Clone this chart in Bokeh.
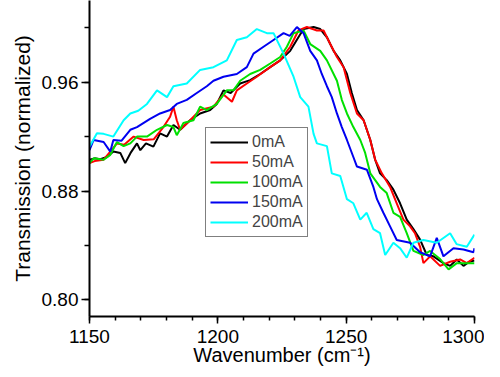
from bokeh.plotting import figure
from bokeh.models import Range1d, FixedTicker, Legend, LegendItem, CustomJSTickFormatter
from bokeh.embed import file_html
from bokeh.resources import INLINE

labels = ["0mA", "50mA", "100mA", "150mA", "200mA"]
colors = ["#000000", "#FF0000", "#00E000", "#0000F0", "#00FFFF"]

x_0mA = [1150, 1152, 1154.2, 1156.8, 1159.3, 1162, 1163.9, 1166, 1168.5, 1169.8, 1172, 1174.9, 1177.5, 1180.2, 1182.7, 1185.3, 1189.2, 1193.1, 1197, 1199.6, 1202.2, 1205, 1208.7, 1212.6, 1216.5, 1220.4, 1224.3, 1228.2, 1231.4, 1233.4, 1237.3, 1239.9, 1242.5, 1245.1, 1247.7, 1250.3, 1252.2, 1254.2, 1256.8, 1259.4, 1261.3, 1263.2, 1265.8, 1268.4, 1271, 1273.6, 1276.2, 1278.8, 1281.4, 1284, 1287.9, 1290.5, 1293.1, 1295.7, 1298, 1300]
y_0mA = [0.903, 0.904, 0.9034, 0.905, 0.909, 0.908, 0.9005, 0.908, 0.915, 0.910, 0.915, 0.9126, 0.9224, 0.920, 0.9285, 0.925, 0.932, 0.937, 0.9395, 0.944, 0.954, 0.952, 0.959, 0.9615, 0.966, 0.971, 0.976, 0.983, 0.993, 0.999, 1.0005, 0.999, 0.993, 0.983, 0.976, 0.966, 0.952, 0.9395, 0.932, 0.9175, 0.903, 0.893, 0.888, 0.881, 0.871, 0.859, 0.852, 0.8443, 0.833, 0.832, 0.827, 0.825, 0.8297, 0.825, 0.828, 0.829]

x_50mA = [1150, 1152, 1155.5, 1158.1, 1160.7, 1163.5, 1167.2, 1171.1, 1175, 1178.8, 1181.4, 1182.7, 1184, 1185.3, 1189.2, 1193.1, 1198.3, 1202.2, 1205.5, 1207.4, 1211.3, 1215.2, 1220.4, 1224.3, 1228.2, 1231.4, 1234.7, 1238.6, 1241.2, 1243.8, 1246.4, 1249, 1251.6, 1254.2, 1256.8, 1259.4, 1261.3, 1263.9, 1267.1, 1269.7, 1272.3, 1274.9, 1276.8, 1278.8, 1280.1, 1282.7, 1286.6, 1290.5, 1294.4, 1297, 1300]
y_50mA = [0.9005, 0.902, 0.903, 0.909, 0.915, 0.914, 0.920, 0.9175, 0.918, 0.927, 0.9346, 0.942, 0.932, 0.925, 0.932, 0.9395, 0.942, 0.951, 0.9456, 0.954, 0.959, 0.964, 0.971, 0.976, 0.986, 0.998, 1.0005, 0.998, 0.998, 0.988, 0.9785, 0.971, 0.952, 0.937, 0.932, 0.9175, 0.903, 0.893, 0.883, 0.871, 0.859, 0.854, 0.849, 0.839, 0.827, 0.832, 0.825, 0.828, 0.8297, 0.827, 0.831]

x_100mA = [1150, 1151.6, 1155.5, 1158.1, 1160.7, 1163.3, 1165.9, 1168.5, 1172.4, 1176.3, 1180.2, 1182.7, 1184, 1186.6, 1190.5, 1193.1, 1195.7, 1199.6, 1203.5, 1206.1, 1208.7, 1212.6, 1216.5, 1220.4, 1224.3, 1226.9, 1229.5, 1233.4, 1236, 1239.9, 1242.5, 1246.4, 1248.3, 1250.3, 1252.8, 1255.5, 1257.4, 1259.4, 1263.2, 1265.8, 1268.4, 1271, 1273.6, 1276.2, 1280.1, 1282.7, 1286.6, 1289.9, 1293.1, 1296.5, 1300]
y_100mA = [0.9005, 0.904, 0.903, 0.9066, 0.916, 0.913, 0.915, 0.920, 0.920, 0.925, 0.9285, 0.927, 0.921, 0.930, 0.932, 0.942, 0.9395, 0.944, 0.954, 0.954, 0.961, 0.966, 0.969, 0.9737, 0.9785, 0.986, 0.996, 0.998, 0.988, 0.983, 0.976, 0.961, 0.947, 0.937, 0.927, 0.9175, 0.908, 0.893, 0.883, 0.8785, 0.864, 0.861, 0.849, 0.836, 0.833, 0.836, 0.830, 0.8224, 0.827, 0.827, 0.827]

x_150mA = [1150, 1151.6, 1155.5, 1158.1, 1159.3, 1162.5, 1165.9, 1168.5, 1173.6, 1177.5, 1181.4, 1184, 1187.9, 1191.8, 1195.7, 1198.3, 1202.2, 1207.4, 1211.3, 1213.9, 1217.8, 1221.7, 1225.6, 1228, 1230.8, 1233.4, 1236, 1238.6, 1240.5, 1242.5, 1244.4, 1246.4, 1248.3, 1250.3, 1252.8, 1254.2, 1258.1, 1260.6, 1262, 1264.5, 1267.1, 1269.7, 1274.9, 1278.8, 1282.7, 1285.3, 1287.9, 1291.8, 1295.7, 1299.6, 1300]
y_150mA = [0.910, 0.9175, 0.916, 0.909, 0.9175, 0.917, 0.925, 0.927, 0.933, 0.937, 0.9395, 0.944, 0.947, 0.952, 0.957, 0.961, 0.964, 0.966, 0.971, 0.981, 0.986, 0.991, 0.996, 0.994, 1.0005, 0.996, 0.983, 0.976, 0.966, 0.957, 0.949, 0.937, 0.927, 0.9175, 0.905, 0.898, 0.8956, 0.883, 0.874, 0.864, 0.854, 0.844, 0.842, 0.835, 0.832, 0.8456, 0.832, 0.838, 0.837, 0.835, 0.838]

x_200mA = [1150, 1152.9, 1155.5, 1159.3, 1163.3, 1165.9, 1169, 1172.4, 1176.3, 1180.2, 1182.7, 1187.9, 1193.1, 1198.3, 1203.5, 1207.4, 1211.3, 1215.2, 1219.1, 1221.7, 1225.6, 1229.5, 1232.1, 1235.3, 1237.3, 1238.6, 1242.5, 1244.4, 1247.7, 1250.3, 1252.8, 1255.5, 1258, 1260.6, 1263.2, 1265.2, 1268.4, 1271, 1273.6, 1276.2, 1280.1, 1285.3, 1290.5, 1293, 1297, 1300]
y_200mA = [0.9126, 0.9224, 0.922, 0.920, 0.932, 0.937, 0.939, 0.944, 0.954, 0.949, 0.957, 0.959, 0.969, 0.971, 0.976, 0.991, 0.993, 0.999, 0.996, 0.996, 0.981, 0.964, 0.949, 0.942, 0.922, 0.915, 0.913, 0.893, 0.891, 0.874, 0.871, 0.859, 0.864, 0.852, 0.849, 0.833, 0.842, 0.838, 0.831, 0.842, 0.844, 0.842, 0.849, 0.841, 0.839, 0.848]

x_ticks = [1150, 1200, 1250, 1300]
x_minor = [1150, 1160, 1170, 1180, 1190, 1200, 1210, 1220, 1230, 1240, 1250, 1260, 1270, 1280, 1290, 1300]
y_ticks = [0.80, 0.88, 0.96]
y_minor = [0.80, 0.84, 0.88, 0.92, 0.96, 1.00]

series_x = [x_0mA, x_50mA, x_100mA, x_150mA, x_200mA]
series_y = [y_0mA, y_50mA, y_100mA, y_150mA, y_200mA]

FONT = "Liberation Sans"

p = figure(width=484, height=368, output_backend="svg", toolbar_location=None,
           x_range=Range1d(1150, 1300), y_range=Range1d(0.7878, 1.020),
           min_border_left=89, min_border_right=10, min_border_top=0, min_border_bottom=51)
p.outline_line_color = None
p.xgrid.visible = False
p.ygrid.visible = False
p.background_fill_color = "white"
p.border_fill_color = "white"

items = []
for lbl, col, xs, ys in zip(labels, colors, series_x, series_y):
    r = p.line(xs, ys, line_color=col, line_width=2)
    items.append(LegendItem(label=lbl, renderers=[r]))

legend = Legend(items=items, location=(116, 79), orientation="vertical")
legend.border_line_color = "black"
legend.border_line_width = 1
legend.background_fill_alpha = 1
legend.label_text_font = FONT
legend.label_text_font_size = "16px"
legend.glyph_width = 38
legend.glyph_height = 20
legend.label_height = 20
legend.label_standoff = 4
legend.spacing = 0
legend.padding = 4
legend.margin = 0
p.add_layout(legend, "center")

for ax in (p.xaxis[0], p.yaxis[0]):
    ax.axis_line_width = 2
    ax.axis_line_color = "black"
    ax.major_tick_line_width = 1.5
    ax.minor_tick_line_width = 1.5
    ax.major_tick_in = 0
    ax.minor_tick_in = 0
    ax.major_label_text_font = FONT
    ax.major_label_text_font_size = "19px"
    ax.major_label_text_color = "black"
    ax.axis_label_text_font = FONT
    ax.axis_label_text_font_style = "normal"
    ax.axis_label_text_color = "black"

p.xaxis[0].major_tick_out = 7
p.xaxis[0].minor_tick_out = 4
p.yaxis[0].major_tick_out = 8
p.yaxis[0].minor_tick_out = 5
p.xaxis[0].axis_label_text_font_size = "20px"
p.yaxis[0].axis_label_text_font_size = "21px"

p.xaxis[0].ticker = FixedTicker(ticks=x_ticks, minor_ticks=x_minor)
p.yaxis[0].ticker = FixedTicker(ticks=y_ticks, minor_ticks=y_minor)
p.yaxis[0].formatter = CustomJSTickFormatter(code="return tick.toFixed(2);")
p.xaxis[0].axis_label = "Wavenumber (cm\u207b\u00b9)"
p.yaxis[0].axis_label = "Transmission (normalized)"
p.xaxis[0].major_label_standoff = 6
p.yaxis[0].major_label_standoff = 3
p.xaxis[0].axis_label_standoff = -2
p.yaxis[0].axis_label_standoff = 5

open("out.html", "w").write(file_html(p, INLINE))
